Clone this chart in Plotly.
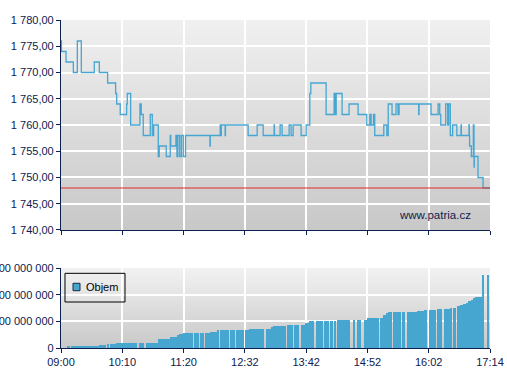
import plotly.graph_objects as go
import base64

# ---- data (minutes after 09:00) ----
price_t = [0, 0.5, 5.8, 14.2, 18.8, 23.4, 38.3, 44.1, 53.7, 62.9, 64.1, 68.2, 75.6, 76.3,
           80.2, 90.9, 92.4, 94.7, 102.8, 105.1, 106.7, 112.0, 113.1, 121.2, 125.8, 126.4,
           132.3, 133.5, 134.6, 136.7, 138.6, 140.8, 143.4, 171.5, 171.9, 183.3, 183.9, 184.6,
           189.0, 189.4, 215.5, 225.9, 232.8, 245.4, 245.8, 252.3, 254.6, 262.7, 265.0, 267.3,
           276.5, 282.3, 286.5, 287.7, 305.3, 314.5, 315.6, 316.9, 323.7, 331.7, 342.1, 352.1,
           355.6, 357.1, 359.8, 361.3, 371.7, 375.2, 376.8, 381.2, 385.8, 388.1, 389.3, 411.9,
           412.3, 426.1, 434.2, 436.1, 437.3, 443.0, 445.3, 446.4, 448.3, 451.0, 455.8, 460.6,
           461.0, 469.8, 470.2, 470.5, 472.5, 474.8, 475.6, 475.9, 480.2, 486.0, 494.0]
price_v = [1776, 1774, 1772, 1770, 1776, 1770, 1772, 1770, 1768, 1766, 1764, 1762, 1764, 1766,
           1760, 1764, 1762, 1758, 1762, 1758, 1760, 1754, 1756, 1754, 1758, 1756,
           1758, 1754, 1758, 1754, 1758, 1754, 1758, 1756, 1758, 1760, 1758, 1760,
           1758, 1760, 1758, 1760, 1758, 1760, 1758, 1760, 1758, 1760, 1758, 1760,
           1758, 1760, 1766, 1768, 1762, 1766, 1762, 1766, 1762, 1764, 1762, 1760,
           1762, 1760, 1762, 1758, 1760, 1758, 1764, 1762, 1764, 1762, 1764, 1762,
           1764, 1762, 1764, 1762, 1760, 1764, 1760, 1764, 1758, 1760, 1758, 1760,
           1758, 1760, 1758, 1756, 1754, 1760, 1752, 1754, 1750, 1748, 1748]
prev_close = 1748

vol_start = [6.6, 11.5, 43.7, 53.3, 56.4, 63.3, 89.4, 97.8, 112.0, 125.4, 133.1, 136.1, 140.7,
             152.7, 160.3, 166.0, 171.5, 179.5, 183.3, 194.8, 201.7, 211.7, 216.0, 235.6, 242.5,
             244.3, 260.4, 268.5, 275.8, 280.8, 285.7, 294.2, 302.3, 305.3, 309.2, 313.8, 317.6,
             336.8, 340.6, 343.3, 348.7, 352.1, 367.4, 371.3, 374.3, 377.1, 382.8, 393.2, 398.1,
             409.7, 418.1, 424.3, 433.5, 441.1, 448.0, 451.9, 456.5, 459.5, 463.4, 466.4, 469.1,
             471.8, 474.9, 476.7, 485.2, 491.3]
vol_end = [10.4, 43.7, 51.8, 55.2, 63.3, 87.1, 95.5, 112.0, 125.4, 133.1, 136.1, 140.7, 151.5,
           159.1, 164.9, 171.5, 179.2, 181.8, 193.7, 200.6, 210.6, 216.0, 233.6, 242.5, 244.3,
           258.9, 267.3, 274.2, 280.8, 285.7, 291.9, 301.5, 304.6, 308.4, 313.0, 316.8, 332.9,
           339.1, 342.9, 345.2, 352.1, 366.7, 371.3, 374.3, 377.1, 380.9, 391.2, 395.8, 409.7,
           418.1, 422.0, 431.9, 439.2, 448.0, 450.7, 454.9, 459.5, 463.4, 466.4, 469.1, 471.8,
           474.9, 476.7, 485.2, 486.4, 492.8]
vol_value = [4, 5, 12, 16, 16, 20, 20, 20, 32, 41, 50, 53, 57,
             57, 57, 57, 61, 69, 69, 69, 69, 69, 72, 72, 77,
             82, 87, 87, 87, 95, 102, 103, 103, 103, 103, 103, 105,
             105, 105, 105, 105, 113, 113, 125, 130, 136, 136, 136, 136,
             140, 144, 144, 147, 147, 151, 151, 158, 162, 166, 170, 175,
             181, 187, 190, 272, 272]
vol_value = [v * 1_000_000 for v in vol_value]

x_tickvals = [0, 70.57, 141.14, 211.71, 282.29, 352.86, 423.43, 494]
x_ticktext = ["09:00", "10:10", "11:20", "12:32", "13:42", "14:52", "16:02", "17:14"]
p_tickvals = [1740, 1745, 1750, 1755, 1760, 1765, 1770, 1775, 1780]
p_ticktext = ["1 740,00", "1 745,00", "1 750,00", "1 755,00", "1 760,00",
              "1 765,00", "1 770,00", "1 775,00", "1 780,00"]
v_tickvals = [0, 100_000_000, 200_000_000, 300_000_000]
v_ticktext = ["0", "100 000 000", "200 000 000", "300 000 000"]
legend_label = "Objem"

NAVY = "#0c2150"
LINE = "#45a6d2"
BAR = "#46a6cf"
FONT = "Arial, Liberation Sans, sans-serif"

fig = go.Figure()
fig.add_trace(go.Scatter(x=price_t, y=price_v, mode="lines", line=dict(color=LINE, width=1.3, shape="hv"),
                         xaxis="x", yaxis="y", showlegend=False, name="Cena"))
fig.add_trace(go.Bar(x=vol_start, y=vol_value, width=[e - s for s, e in zip(vol_start, vol_end)],
                     offset=0, marker=dict(color=BAR, line=dict(width=0)),
                     xaxis="x2", yaxis="y2", name=legend_label, showlegend=False))

# smooth vertical gradient backgrounds (SVG images)
def grad_svg(top, bot):
    svg = ('<svg xmlns="http://www.w3.org/2000/svg" width="10" height="100" preserveAspectRatio="none">'
           '<defs><linearGradient id="g" x1="0" y1="0" x2="0" y2="1">'
           f'<stop offset="0" stop-color="{top}"/><stop offset="1" stop-color="{bot}"/>'
           '</linearGradient></defs><rect width="10" height="100" fill="url(#g)"/></svg>')
    return "data:image/svg+xml;base64," + base64.b64encode(svg.encode()).decode()

images = [
    dict(source=grad_svg("#f0f0f0", "#c8c8c8"), xref="x domain", yref="y domain", x=0, y=1,
         sizex=1, sizey=1, sizing="stretch", layer="below", xanchor="left", yanchor="top"),
    dict(source=grad_svg("#f2f2f2", "#c8c8c8"), xref="x2 domain", yref="y2 domain", x=0, y=1,
         sizex=1, sizey=1, sizing="stretch", layer="below", xanchor="left", yanchor="top"),
]

shapes = [
    dict(type="line", xref="x domain", yref="y", x0=0, x1=1, y0=prev_close, y1=prev_close,
         line=dict(color="#e3262c", width=1.2)),
    # legend box (drawn manually to match the compact original legend)
    dict(type="rect", xref="paper", yref="paper", x0=0.0093, x1=0.1492, y0=0.1402, y1=0.2277,
         line=dict(color="black", width=1), fillcolor="rgba(0,0,0,0)"),
    dict(type="rect", xref="paper", yref="paper", x0=0.028, x1=0.0443, y0=0.1747, y1=0.1973,
         line=dict(color="#1a2a40", width=1), fillcolor=BAR),
]

axis_common = dict(showline=True, linecolor=NAVY, linewidth=1.2, ticks="outside", ticklen=4,
                   tickcolor=NAVY, showgrid=True, gridcolor="white", gridwidth=1.5,
                   zeroline=False, automargin=False,
                   tickfont=dict(family=FONT, size=11, color=NAVY))

fig.update_layout(
    width=507, height=380, margin=dict(l=61, r=17, t=20, b=32, autoexpand=False),
    paper_bgcolor="white", plot_bgcolor="#dcdcdc",
    shapes=shapes, images=images, bargap=0, showlegend=False,
    xaxis=dict(domain=[0, 1], anchor="y", range=[0, 494], tickvals=x_tickvals,
               showticklabels=False, **axis_common),
    yaxis=dict(domain=[0.3598, 1], anchor="x", range=[1740, 1780], tickvals=p_tickvals,
               ticktext=p_ticktext, **axis_common),
    xaxis2=dict(domain=[0, 1], anchor="y2", range=[0, 494], tickvals=x_tickvals,
                ticktext=x_ticktext, matches="x", **axis_common),
    yaxis2=dict(domain=[0, 0.2439], anchor="x2", range=[0, 300_000_000], tickvals=v_tickvals,
                ticktext=v_ticktext, **axis_common),
    annotations=[dict(text="www.patria.cz", xref="x domain", yref="y domain", x=0.96, y=0.07,
                      xanchor="right", yanchor="middle", showarrow=False,
                      font=dict(family=FONT, size=11.5, color=NAVY)),
                 dict(text=legend_label, xref="paper", yref="paper", x=0.0536, y=0.186,
                      xanchor="left", yanchor="middle", showarrow=False,
                      font=dict(family=FONT, size=11, color="black"))],
)

fig.write_html("out.html", config={"displayModeBar": False},
               post_script="document.body.style.margin='0px';")
